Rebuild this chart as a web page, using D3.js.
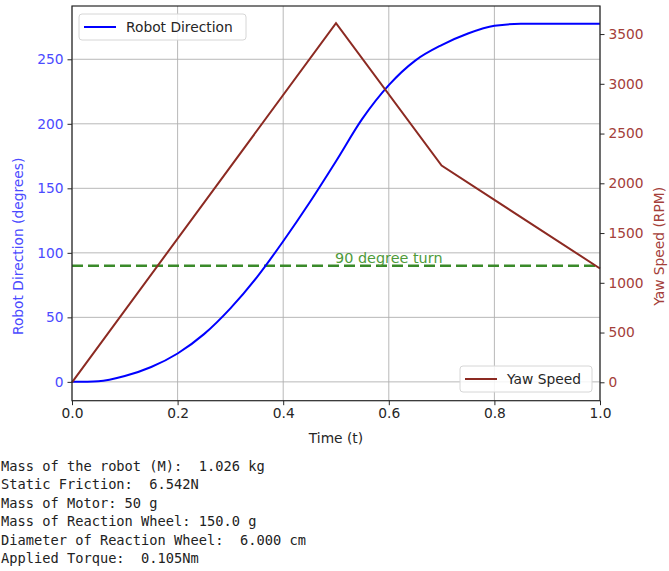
<!DOCTYPE html>
<html>
<head>
<meta charset="utf-8">
<script src="https://cdn.jsdelivr.net/npm/d3@7"></script>
<style>
  body { margin: 0; background: #fff; }
  text { font-family: "DejaVu Sans", sans-serif; }
  .mono { font-family: "DejaVu Sans Mono", monospace; font-size: 13.7px; fill: #222; }
</style>
</head>
<body>
<div id="chart"></div>
<script>
// time samples for robot direction (s)
var timeSteps = [0, 0.05, 0.1, 0.15, 0.2, 0.25, 0.3, 0.35, 0.4, 0.45, 0.5,
                 0.55, 0.6, 0.65, 0.7, 0.75, 0.8, 0.85, 0.9, 0.95, 1.0];
// robot direction (degrees)
var robotDirection = [0, 0.5, 4.5, 11.5, 22, 37, 57, 81, 109, 139, 171,
                      204, 230, 249, 261, 270, 276, 277.5, 277.5, 277.5, 277.5];
// yaw speed corner points
var yawTime = [0, 0.5, 0.7, 1.0];
var yawSpeed = [0, 3610, 2178, 1144];

var turnAngle = 90;
var xTicks = [0, 0.2, 0.4, 0.6, 0.8, 1.0];
var leftTicks = [0, 50, 100, 150, 200, 250];
var rightTicks = [0, 500, 1000, 1500, 2000, 2500, 3000, 3500];

var infoLines = [
  "Mass of the robot (M):  1.026 kg",
  "Static Friction:  6.542N",
  "Mass of Motor: 50 g",
  "Mass of Reaction Wheel: 150.0 g",
  "Diameter of Reaction Wheel:  6.000 cm",
  "Applied Torque:  0.105Nm"
];

var blue = "#0000ff", brown = "#8c2a22", green = "#3a8a2a";

var svg = d3.select("#chart").append("svg")
  .attr("width", 669)
  .attr("height", 571);

// plot box
var box = {left: 72, right: 600, top: 6, bottom: 400.7};

var x = d3.scaleLinear().domain([0, 1]).range([box.left, box.right]);
var y = d3.scaleLinear().domain([-14.6, 291.3]).range([box.bottom, box.top]);
var y2 = d3.scaleLinear().domain([-185, 3782]).range([box.bottom, box.top]);

// grid
svg.append("g")
  .selectAll("line").data(xTicks).enter().append("line")
  .attr("x1", function(d) { return x(d); }).attr("x2", function(d) { return x(d); })
  .attr("y1", box.top).attr("y2", box.bottom)
  .attr("stroke", "#b0b0b0").attr("stroke-width", 0.9);
svg.append("g")
  .selectAll("line").data(leftTicks).enter().append("line")
  .attr("x1", box.left).attr("x2", box.right)
  .attr("y1", function(d) { return y(d); }).attr("y2", function(d) { return y(d); })
  .attr("stroke", "#b0b0b0").attr("stroke-width", 0.9);

// 90 degree line
svg.append("line")
  .attr("x1", x(0)).attr("x2", x(1))
  .attr("y1", y(turnAngle)).attr("y2", y(turnAngle))
  .attr("stroke", green).attr("stroke-width", 2.6)
  .attr("stroke-dasharray", "11,5");
svg.append("text")
  .attr("x", x(0.6)).attr("y", y(turnAngle) - 3)
  .attr("text-anchor", "middle")
  .attr("font-size", "14.4px")
  .attr("fill", "#4e9a3a")
  .text("90 degree turn");

// robot direction line
var dirData = timeSteps.map(function(t, i) { return {t: t, v: robotDirection[i]}; });
svg.append("path")
  .datum(dirData)
  .attr("fill", "none").attr("stroke", blue).attr("stroke-width", 2)
  .attr("d", d3.line()
    .x(function(d) { return x(d.t); })
    .y(function(d) { return y(d.v); })
    .curve(d3.curveMonotoneX));

// yaw speed line
var yawData = yawTime.map(function(t, i) { return {t: t, v: yawSpeed[i]}; });
svg.append("path")
  .datum(yawData)
  .attr("fill", "none").attr("stroke", brown).attr("stroke-width", 2)
  .attr("d", d3.line()
    .x(function(d) { return x(d.t); })
    .y(function(d) { return y2(d.v); }));

// axes
var xAxis = svg.append("g")
  .attr("transform", "translate(0," + box.bottom + ")")
  .call(d3.axisBottom(x).tickValues(xTicks).tickFormat(d3.format(".1f")).tickSizeInner(4.5).tickSizeOuter(0).tickPadding(3));
xAxis.selectAll("text").attr("font-size", "13.8px").attr("fill", "#262626");

var yAxis = svg.append("g")
  .attr("transform", "translate(" + box.left + ",0)")
  .call(d3.axisLeft(y).tickValues(leftTicks).tickFormat(d3.format("d")).tickSizeInner(4.5).tickSizeOuter(0).tickPadding(4));
yAxis.selectAll("text").attr("font-size", "13.8px").attr("fill", "#4b4bff");

var y2Axis = svg.append("g")
  .attr("transform", "translate(" + box.right + ",0)")
  .call(d3.axisRight(y2).tickValues(rightTicks).tickFormat(d3.format("d")).tickSizeInner(4.5).tickSizeOuter(0).tickPadding(4));
y2Axis.selectAll("text").attr("font-size", "13.8px").attr("fill", "#a4403a");

[xAxis, yAxis, y2Axis].forEach(function(a) {
  a.selectAll(".domain").remove();
  a.selectAll(".tick line").attr("stroke", "#262626").attr("stroke-width", 1);
  a.attr("font-family", null);
});

// frame
svg.append("rect")
  .attr("x", box.left).attr("y", box.top)
  .attr("width", box.right - box.left).attr("height", box.bottom - box.top)
  .attr("fill", "none").attr("stroke", "#262626").attr("stroke-width", 1.2);

// axis labels
svg.append("text")
  .attr("x", (box.left + box.right) / 2).attr("y", 443)
  .attr("text-anchor", "middle").attr("font-size", "13.8px").attr("fill", "#262626")
  .text("Time (t)");
svg.append("text")
  .attr("transform", "translate(23," + y(105) + ") rotate(-90)")
  .attr("text-anchor", "middle").attr("font-size", "13.8px").attr("fill", "#4b4bff")
  .text("Robot Direction (degrees)");
svg.append("text")
  .attr("transform", "translate(664," + y(105) + ") rotate(-90)")
  .attr("text-anchor", "middle").attr("font-size", "13.8px").attr("fill", "#a4403a")
  .text("Yaw Speed (RPM)");

// legends
function legend(x0, y0, w, label, color) {
  var g = svg.append("g").attr("transform", "translate(" + x0 + "," + y0 + ")");
  g.append("rect")
    .attr("width", w).attr("height", 26).attr("rx", 3)
    .attr("fill", "#fff").attr("fill-opacity", 0.85)
    .attr("stroke", "#d6d6d6");
  g.append("line")
    .attr("x1", 5).attr("x2", 37).attr("y1", 13).attr("y2", 13)
    .attr("stroke", color).attr("stroke-width", 2);
  g.append("text")
    .attr("x", 47).attr("y", 18)
    .attr("font-size", "13.8px").attr("fill", "#262626")
    .text(label);
}
legend(79, 14, 167, "Robot Direction", blue);
legend(460, 366, 132, "Yaw Speed", brown);

// printed parameters
svg.append("g")
  .selectAll("text").data(infoLines).enter().append("text")
  .attr("class", "mono")
  .attr("x", 1)
  .attr("y", function(d, i) { return 471 + i * 18.4; })
  .style("white-space", "pre")
  .text(function(d) { return d; });
</script>
</body>
</html>
